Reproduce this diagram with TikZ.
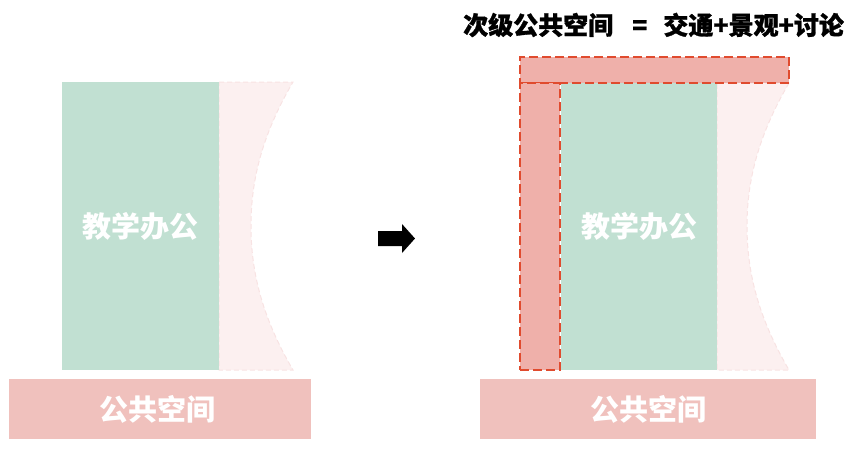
\documentclass[tikz,border=0pt]{standalone}
\usepackage{fontspec}
\newfontfamily\cjk{Noto Sans CJK SC}
\newfontfamily\cjkh{Noto Sans CJK SC}[BoldFeatures={FakeBold=1.2}]
\usetikzlibrary{positioning}
\definecolor{offgreen}{HTML}{C1E0D2}
\definecolor{pubpink}{HTML}{F0C1BD}
\definecolor{palepink}{HTML}{FCF0F0}
\definecolor{paleedge}{HTML}{F8E3E3}
\definecolor{subfill}{HTML}{EFB0AA}
\definecolor{subedge}{HTML}{E04B2E}
\tikzset{
  greenbox/.style={fill=offgreen, draw=none, inner sep=0pt, text=white, font=\cjk\bfseries\fontsize{29}{32}\selectfont},
  pubbox/.style={fill=pubpink, draw=none, inner sep=0pt, text=white, font=\cjk\bfseries\fontsize{29}{32}\selectfont},
  subbox/.style={fill=subfill, draw=subedge, line width=2pt, dash pattern=on 9pt off 4pt, inner sep=0pt},
  paleshape/.style={fill=palepink, draw=paleedge, line width=1pt, dash pattern=on 5pt off 3pt},
  titletext/.style={inner sep=0pt, font=\cjkh\bfseries\fontsize{25}{28}\selectfont}
}
\begin{document}
\begin{tikzpicture}[x=1pt,y=-1pt]
\useasboundingbox (0,0) rectangle (861,456);
% ---- left diagram ----
\path[paleshape] (219,82) -- (293,82) .. controls (262,135) and (251,180) .. (251,226) .. controls (251,272) and (262,317) .. (293,370) -- (219,370) -- cycle;
\node[greenbox, minimum width=157pt, minimum height=288pt] (offL) at (140.5,226) {教学办公};
\node[pubbox, minimum width=302pt, minimum height=60pt] (pubL) at (160,409) {\hspace{-6pt}公共空间};
% ---- arrow ----
\fill[black] (378,231) -- (402,231) -- (402,224) -- (415,238.5) -- (402,253) -- (402,246) -- (378,246) -- cycle;
% ---- right diagram ----
\path[paleshape] (717,83) -- (789,83) .. controls (758,136) and (747,181) .. (747,226) .. controls (747,272) and (758,317) .. (789,370) -- (717,370) -- cycle;
\node[greenbox, minimum width=156pt, minimum height=287pt] (offR) at (639,226.5) {教学办公};
\node[subbox, minimum width=269pt, minimum height=26pt] (subTop) at (654.5,70) {};
\node[subbox, minimum width=40pt, minimum height=287pt] (subLeft) at (540,226.5) {};
\node[pubbox, minimum width=336pt, minimum height=60pt] (pubR) at (648,409) {公共空间};
\node[titletext, anchor=west] (title) at (463,25) {次级公共空间\hspace{19pt}=\hspace{16pt}交通+景观+讨论};
\end{tikzpicture}
\end{document}
